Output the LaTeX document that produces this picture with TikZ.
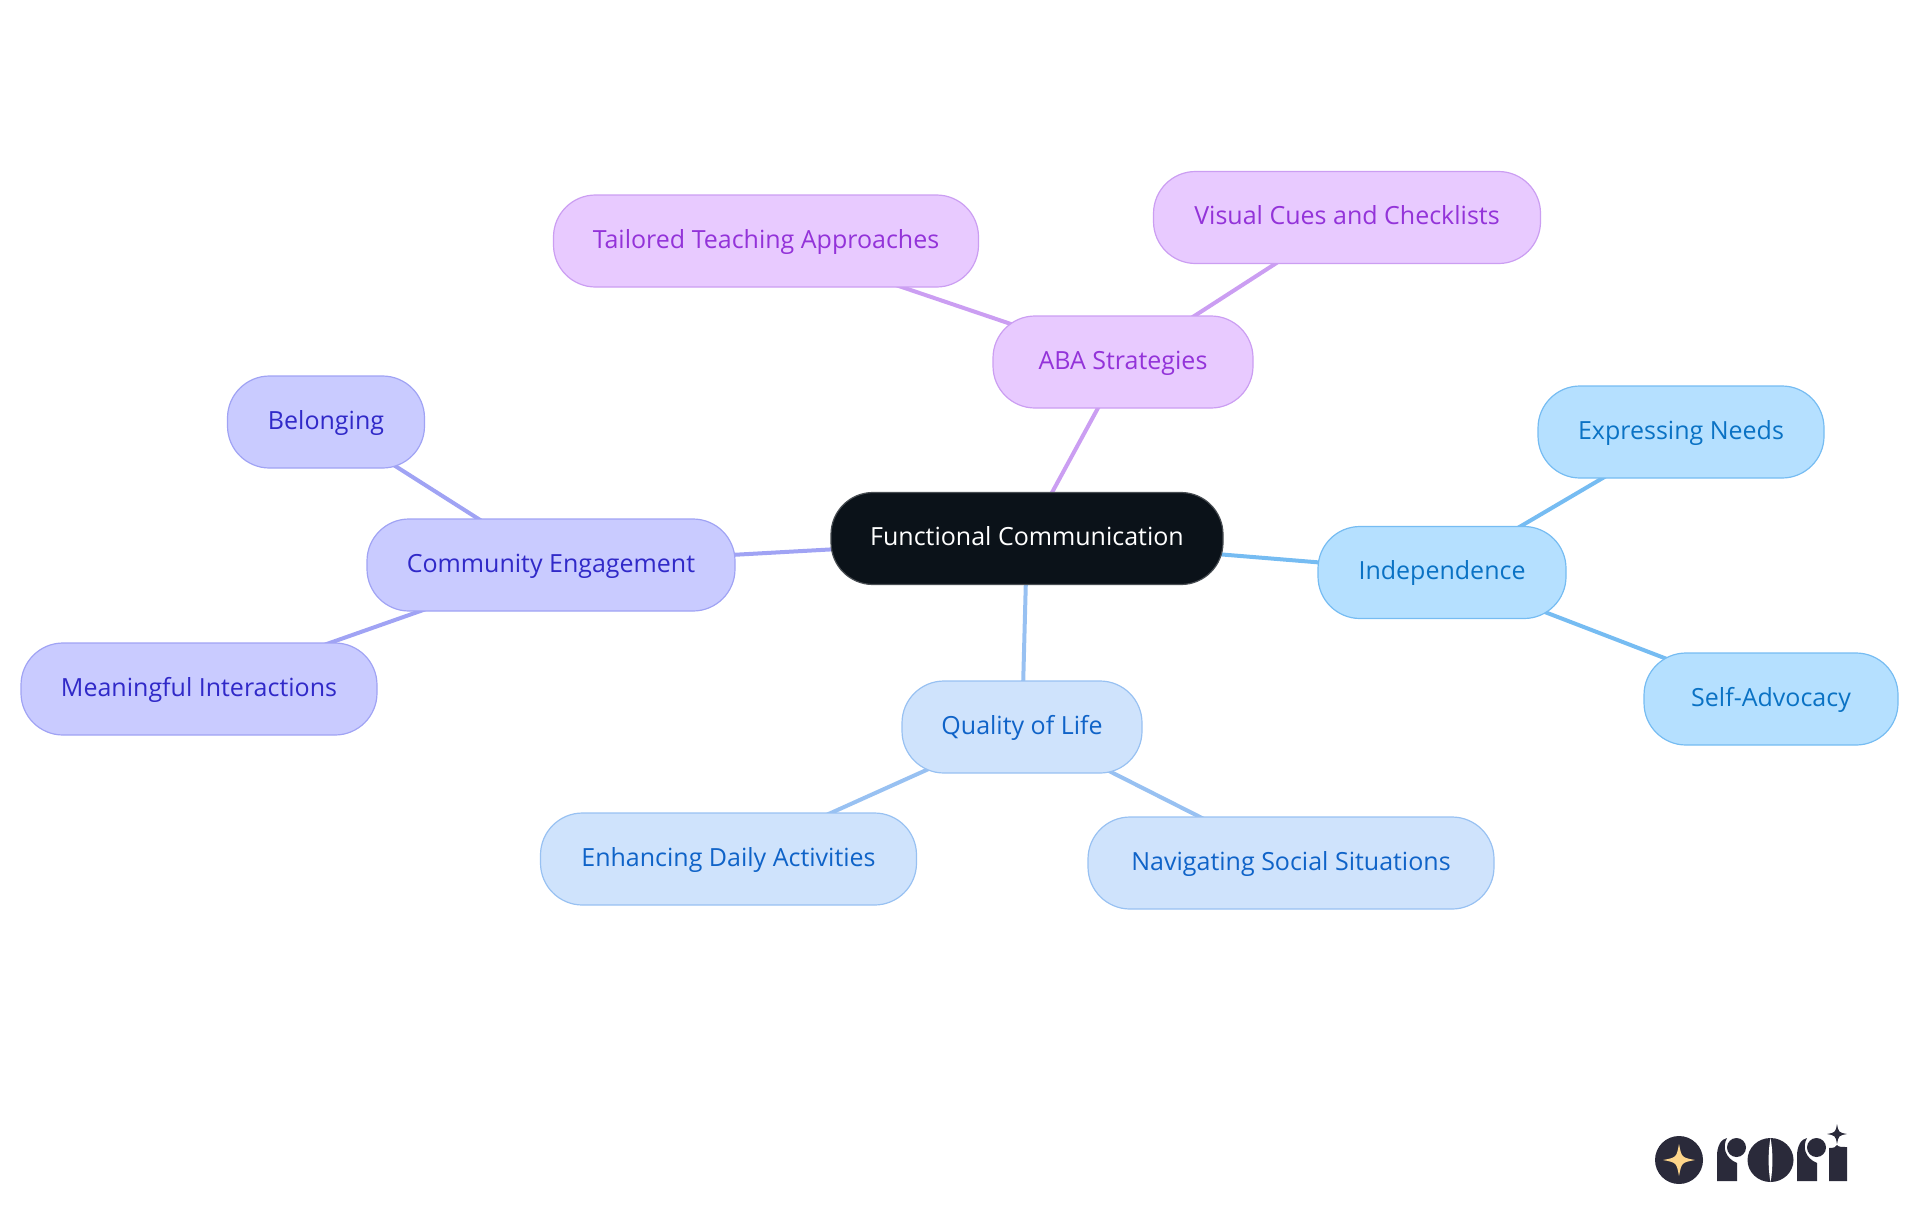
\documentclass[tikz,border=0pt]{standalone}
\usepackage{fontspec}
\setmainfont{Open Sans}
\usetikzlibrary{backgrounds}
\definecolor{rootfill}{HTML}{0B1219}
\definecolor{abafill}{HTML}{E8CAFF}
\definecolor{abaline}{HTML}{CB9EF2}
\definecolor{abatext}{HTML}{9333D9}
\definecolor{commfill}{HTML}{C9CBFF}
\definecolor{commline}{HTML}{A0A3F4}
\definecolor{commtext}{HTML}{3029C8}
\definecolor{indfill}{HTML}{B5E0FF}
\definecolor{indline}{HTML}{76BCF2}
\definecolor{indtext}{HTML}{0A72C4}
\definecolor{qolfill}{HTML}{CFE3FC}
\definecolor{qolline}{HTML}{98C1F2}
\definecolor{qoltext}{HTML}{0F63C8}
\definecolor{logodark}{HTML}{2A2A3A}
\definecolor{logostar}{HTML}{FDD58A}
\tikzset{
 topic/.style={draw,line width=0.6pt,rounded corners=21pt,minimum height=46pt,align=center,font=\fontsize{12.5}{14}\selectfont,inner sep=0pt,text height=10pt,text depth=2.6pt},
 root/.style={topic,fill=rootfill,draw=rootfill!75!white,text=white},
 aba/.style={topic,fill=abafill,draw=abaline,text=abatext},
 comm/.style={topic,fill=commfill,draw=commline,text=commtext},
 ind/.style={topic,fill=indfill,draw=indline,text=indtext},
 qol/.style={topic,fill=qolfill,draw=qolline,text=qoltext},
 link/.style={line width=2pt}
}
% four pointed star of the logo
\newcommand{\logostar}[4]{
 \fill[#4] (#1,#2-#3) .. controls (#1+0.16*#3,#2-0.16*#3) .. (#1+#3,#2)
  .. controls (#1+0.16*#3,#2+0.16*#3) .. (#1,#2+#3)
  .. controls (#1-0.16*#3,#2+0.16*#3) .. (#1-#3,#2)
  .. controls (#1-0.16*#3,#2-0.16*#3) .. (#1,#2-#3) -- cycle;
}
% letter r of the logo, x is the left edge of the stem
\newcommand{\logor}[1]{
 \fill[logodark] (#1,1181) -- (#1,1156) .. controls (#1,1146) and (#1+4,1139) .. (#1+10,1138)
  .. controls (#1+5,1147) and (#1+8,1158) .. (#1+20,1163) -- (#1+20,1181) -- cycle;
 \fill[logodark] (#1+19.5,1147.5) circle[radius=9.5];
}
\begin{document}
\begin{tikzpicture}[x=0.5pt,y=-0.5pt]
 \useasboundingbox (0,0) rectangle (1920,1215);
 \node[root,minimum width=196pt] (func) at (1027,538.5) {Functional Communication};
 % ABA
 \node[aba,minimum width=130pt] (strat) at (1123,362) {ABA Strategies};
 \node[aba,minimum width=212.5pt] (tailored) at (766,241) {Tailored Teaching Approaches};
 \node[aba,minimum width=193.5pt] (visual) at (1347,217.5) {Visual Cues and Checklists};
 % community
 \node[comm,minimum width=184pt] (engage) at (551,565) {Community Engagement};
 \node[comm,minimum width=98.5pt] (belong) at (326,422) {Belonging};
 \node[comm,minimum width=178pt] (meaning) at (199,689) {Meaningful Interactions};
 % independence
 \node[ind,minimum width=124pt] (indep) at (1442,572.5) {Independence};
 \node[ind,minimum width=143pt] (needs) at (1681,432) {Expressing Needs};
 \node[ind,minimum width=127pt] (advocacy) at (1771,699) {Self-Advocacy};
 % quality of life
 \node[qol,minimum width=120pt] (quality) at (1022,727) {Quality of Life};
 \node[qol,minimum width=188pt] (daily) at (728.5,859) {Enhancing Daily Activities};
 \node[qol,minimum width=203pt] (social) at (1291,863) {Navigating Social Situations};
 \begin{scope}[on background layer]
  \draw[link,abaline] (func.center) -- (strat.center);
  \draw[link,abaline] (strat.center) -- (tailored.center);
  \draw[link,abaline] (strat.center) -- (visual.center);
  \draw[link,commline] (func.center) -- (engage.center);
  \draw[link,commline] (engage.center) -- (belong.center);
  \draw[link,commline] (engage.center) -- (meaning.center);
  \draw[link,indline] (func.center) -- (indep.center);
  \draw[link,indline] (indep.center) -- (needs.center);
  \draw[link,indline] (indep.center) -- (advocacy.center);
  \draw[link,qolline] (func.center) -- (quality.center);
  \draw[link,qolline] (quality.center) -- (daily.center);
  \draw[link,qolline] (quality.center) -- (social.center);
 \end{scope}
 % logo
 \fill[logodark] (1679,1160) circle[radius=24];
 \logostar{1679}{1160}{16}{logostar}
 \logor{1717}
 \fill[logodark] (1770.5,1160) ellipse[x radius=23,y radius=22];
 \fill[white] (1770.5,1138) .. controls (1768,1150) and (1768,1170) .. (1770.5,1182) .. controls (1773,1170) and (1773,1150) .. (1770.5,1138) -- cycle;
 \logor{1797}
 \fill[logodark] (1829,1181) -- (1829,1148) .. controls (1834,1148) and (1836,1147) .. (1837,1145) .. controls (1838,1147) and (1842,1147) .. (1847,1147) -- (1847,1181) -- cycle;
 \logostar{1837}{1134}{10}{logodark}
\end{tikzpicture}
\end{document}
